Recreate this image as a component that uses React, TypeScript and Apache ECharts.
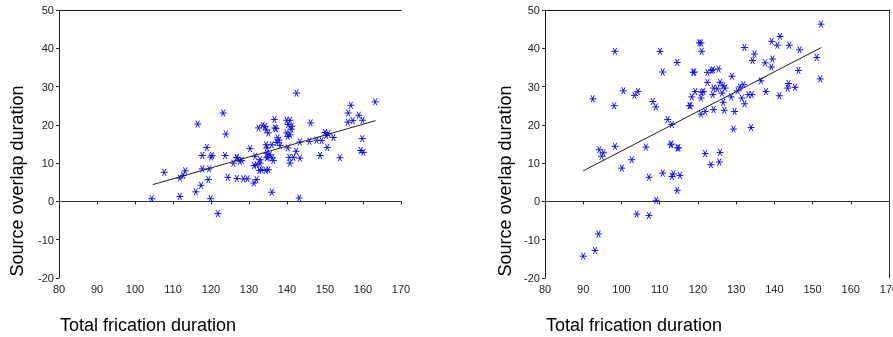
import React, { useEffect, useRef } from "react";
import * as echarts from "echarts";

// Left panel: total frication duration vs source overlap duration
const leftX = [123.2,116.5,123.9,132.5,133.6,134.5,118.9,117.7,120.0,120.3,123.7,126.8,127.6,128.1,130.3,131.6,132.9,134.5,134.9,132.0,132.7,134.4,107.7,113.2,112.7,111.8,117.7,119.5,119.3,124.4,126.8,128.5,129.6,132.0,131.3,117.4,116.0,111.8,104.4,119.9,121.8,142.5,163.2,156.8,156.1,158.9,159.9,156.0,157.3,136.7,136.8,139.9,140.8,140.3,141.1,139.9,146.2,135.1,137.5,137.3,137.9,140.8,150.0,150.9,150.3,152.2,147.8,149.1,145.9,143.4,150.6,159.8,159.4,160.1,153.9,148.7,142.4,140.6,141.7,143.4,140.8,140.2,136.0,134.7,135.5,134.7,136.4,135.1,136.0,143.2,132.9,133.3,131.3,125.9,126.8,134.7,136.1,138.2,137.1,134.2,141.2,140.2];
const leftY = [23.1,20.2,17.6,19.2,19.9,18.7,14.1,12.0,11.6,12.0,12.0,11.5,10.5,10.7,13.8,11.8,10.9,14.8,11.6,9.6,8.1,8.1,7.6,8.0,6.8,6.1,8.5,8.5,5.7,6.3,6.0,5.9,5.9,5.7,4.8,4.2,2.5,1.3,0.7,0.7,-3.2,28.3,26.0,25.1,23.1,22.5,21.2,20.7,21.1,21.4,19.2,21.2,21.2,20.1,18.9,17.9,20.5,17.9,16.6,15.4,16.0,17.4,18.0,17.7,17.2,16.7,16.0,15.9,15.7,15.5,14.1,16.4,13.3,12.8,11.4,12.0,13.1,11.5,11.5,11.3,10.0,14.0,14.8,14.0,12.2,11.4,10.7,8.3,2.4,0.9,10.0,8.3,9.4,10.0,11.4,12.6,11.4,14.6,19.0,19.6,19.6,17.0];
const leftFitX = [104.7, 163.3];
const leftFitY = [4.4, 21.1];

// Right panel
const rightX = [98.3,110.1,114.6,110.8,119.0,92.5,100.5,104.3,103.4,98.1,108.2,109.0,119.3,118.4,118.0,112.1,113.2,120.4,120.8,121.0,152.2,141.5,139.3,140.8,143.9,146.6,132.2,134.8,134.3,137.6,139.5,139.2,151.1,146.3,152.0,122.5,123.9,125.4,128.9,122.5,125.8,126.6,124.1,125.1,127.1,121.4,131.0,131.9,130.4,136.5,137.8,133.2,134.1,131.5,132.2,128.7,126.3,123.9,120.8,126.6,124.1,126.9,129.6,121.9,120.8,141.3,143.7,143.5,145.4,129.3,133.9,94.2,95.3,94.8,98.3,100.1,102.7,106.4,112.9,114.7,107.2,110.8,113.2,113.6,115.3,114.6,109.1,104.0,107.2,94.0,93.1,90.0,121.9,125.8,123.4,125.6,118.8,117.8,121.0,123.6,114.9,113.0];
const rightY = [39.2,39.2,36.3,33.8,33.8,26.8,28.9,28.7,27.7,25.0,26.1,24.7,28.7,27.3,25.0,21.4,20.1,41.4,41.4,39.2,46.3,43.1,41.8,40.8,40.8,39.6,40.2,38.5,36.8,36.2,37.2,35.1,37.6,34.2,32.0,33.7,34.4,34.6,32.7,31.1,31.1,30.2,29.6,29.4,29.6,28.7,29.9,30.5,28.9,31.5,28.7,27.9,27.9,27.0,25.5,27.3,28.3,27.9,27.0,25.9,24.0,23.8,23.5,23.5,22.8,27.6,30.8,29.6,29.8,18.9,19.3,13.5,12.7,11.8,14.4,8.7,10.9,14.2,14.8,14.0,6.3,7.4,6.5,7.2,6.8,2.9,0.3,-3.3,-3.7,-8.5,-12.8,-14.3,12.5,12.8,9.6,10.3,33.7,25.0,28.5,34.2,14.0,15.0];
const rightFitX = [90.0, 152.3];
const rightFitY = [8.0, 40.2];

const xTitle = "Total frication duration";
const yTitle = "Source overlap duration";

const STAR = "path://M0,5L10,5M2.5,0.67L7.5,9.33M7.5,0.67L2.5,9.33";
const FONT = "Liberation Sans, Arial, sans-serif";

function zip(a: number[], b: number[]) {
  return a.map((v, i) => [v, b[i]]);
}

export default function App() {
  const ref = useRef<HTMLDivElement>(null);
  useEffect(() => {
    document.body.style.margin = "0";
    const chart = echarts.init(ref.current!, null, { renderer: "svg" });
    const grids = [
      { left: 59, top: 10, width: 342, height: 268, outerBoundsMode: "none", containLabel: false },
      { left: 545, top: 10, width: 344, height: 268, outerBoundsMode: "none", containLabel: false },
    ];
    const xBottom = (gi: number) => ({
      type: "value",
      gridIndex: gi,
      min: 80,
      max: 170,
      interval: 10,
      position: "bottom",
      axisLine: { show: true, lineStyle: { color: "#333", width: 1 } },
      axisTick: { show: true, length: 3, lineStyle: { color: "#222" } },
      axisLabel: { color: "#222", fontSize: 11, fontFamily: FONT, margin: 5, showMaxLabel: true, showMinLabel: true },
      splitLine: { show: false },
    });
    const xTop = (gi: number) => ({
      type: "value",
      gridIndex: gi,
      min: 80,
      max: 170,
      position: "top",
      axisLine: { show: true, onZero: false, lineStyle: { color: "#111", width: 1 } },
      axisTick: { show: false },
      axisLabel: { show: false },
      splitLine: { show: false },
    });
    const yLeft = (gi: number) => ({
      type: "value",
      gridIndex: gi,
      min: -20,
      max: 50,
      interval: 10,
      position: "left",
      axisLine: { show: true, onZero: false, lineStyle: { color: "#222", width: 1 } },
      axisTick: { show: true, length: 3, lineStyle: { color: "#222" } },
      axisLabel: { color: "#222", fontSize: 11, fontFamily: FONT, margin: 5 },
      splitLine: { show: false },
    });
    const yRight = (gi: number) => ({
      type: "value",
      gridIndex: gi,
      min: -20,
      max: 50,
      position: "right",
      axisLine: { show: true, onZero: false, lineStyle: { color: "#333", width: 1 } },
      axisTick: { show: false },
      axisLabel: { show: false },
      splitLine: { show: false },
    });
    const scatter = (xi: number, yi: number, data: number[][]) => ({
      type: "scatter",
      xAxisIndex: xi,
      yAxisIndex: yi,
      data,
      symbol: STAR,
      symbolSize: 7,
      itemStyle: { color: "#0000ff", borderColor: "#0000ff", borderWidth: 1, opacity: 0.9 },
    });
    const fit = (xi: number, yi: number, data: number[][]) => ({
      type: "line",
      xAxisIndex: xi,
      yAxisIndex: yi,
      data,
      symbol: "none",
      lineStyle: { color: "#222", width: 1 },
    });
    const titleText = (x: number, y: number, rot: boolean) => ({
      type: "text",
      x,
      y,
      rotation: rot ? Math.PI / 2 : 0,
      style: {
        text: rot ? yTitle : xTitle,
        font: `18px ${FONT}`,
        fill: "#000",
        align: rot ? "center" : "left",
        verticalAlign: "middle",
      },
    });
    chart.setOption({
      animation: false,
      grid: grids,
      xAxis: [xBottom(0), xTop(0), xBottom(1), xTop(1)],
      yAxis: [yLeft(0), yLeft(1), yRight(1)],
      series: [
        scatter(0, 0, zip(leftX, leftY)),
        fit(0, 0, zip(leftFitX, leftFitY)),
        scatter(2, 1, zip(rightX, rightY)),
        fit(2, 1, zip(rightFitX, rightFitY)),
      ],
      graphic: [
        titleText(17, 181, true),
        titleText(505, 181, true),
        titleText(60, 325, false),
        titleText(546, 325, false),
      ],
    });
    return () => chart.dispose();
  }, []);
  return <div ref={ref} style={{ position: "fixed", left: 0, top: 0, width: 893, height: 337 }} />;
}
